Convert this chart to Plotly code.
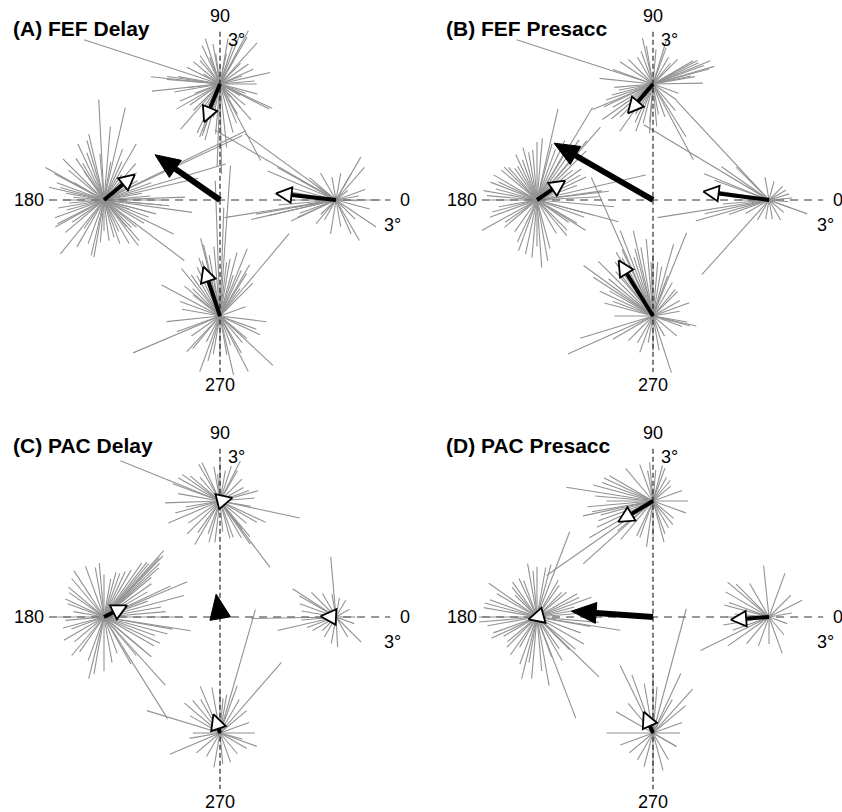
import math
import plotly.graph_objects as go

W, H = 842, 812
PX_PER_DEG = 38.67
ECC = 3.0

titles = ["(A) FEF Delay", "(B) FEF Presacc", "(C) PAC Delay", "(D) PAC Presacc"]
target_dirs = [0, 90, 180, 270]
axis_labels = ["0", "90", "180", "270"]

# ---------- individual trial vectors (angle in deg, length in deg of visual angle) ----------
# Panel A: FEF Delay
a0_ang = [189, 193, 190, 157, 151, 150, 144, 60, 49, 60, 0, -34, -60, -66, 261, 151, 205, 204, 174, 145,
          223, 39, 358, 188, 190, 193, 165, 170, 180, 185, 200, 140, 120, 100, 80, 20, 10, -15, -45, 280, 240, 230]
a0_len = [2.92, 2.25, 2.1, 1.92, 1.73, 3.62, 2.92, 1.28, 1.12, 0.78, 1.16, 1.25, 1.21, 0.96, 0.89, 1.04, 1.28, 1.09, 1.6, 0.58,
          0.54, 0.39, 0.56, 0.74, 1.09, 1.81, 1.2, 1.4, 1.3, 1.5, 1.0, 0.9, 0.8, 0.6, 0.7, 0.8, 0.6, 0.9, 0.7, 0.7, 0.6, 0.8]
a90_ang = [162, 13, -27, 62, 60, 108, 100, 175, 186, 203, 249, 251, 268, 271, 298, 311, 60, 78, 153, 225,
           72, 307, 186, 0, 24, 111, 149, 259, 293, 276, 35, 45, 130, 140, 200, 215, 235, 320, 330, 345, 285, 240, 170, 90, 20,
           68, 48, 174, 172, 229, 251, -49, -25, 98, 115, 125, 80, 190, 210, 245, 255, 265, 300, 340, 5]
a90_len = [3.7, 1.33, 1.43, 1.56, 1.4, 1.23, 1.05, 1.38, 1.77, 1.12, 1.47, 1.3, 2.15, 2.33, 2.24, 0.8, 0.7, 0.8, 0.96, 0.97,
           1.1, 0.43, 0.86, 0.95, 0.94, 0.74, 0.5, 0.88, 1.1, 1.65, 0.9, 0.75, 0.8, 0.9, 0.7, 0.95, 0.8, 0.85, 0.6, 1.0, 1.3, 0.7, 1.1, 0.5, 0.6,
           1.42, 1.43, 1.8, 1.38, 1.55, 1.42, 1.22, 1.49, 0.8, 1.1, 0.9, 1.2, 1.2, 1.3, 1.4, 1.5, 1.3, 0.9, 0.7, 0.9]
a180_ang = [93, 77, 26, 25, 16.5, 13, 0, -15, -26, -37, 231, 151, 167, 180, 209, 277, 60, 49, 103, -49,
            110, 120, 135, 140, 125, 115, 85, 95, 70, 40, 35, 5, 10, 190, 195, 200, 220, 240, 250, 260,
            265, 285, 290, 300, 310, 320, 330, 345, 355, 2, -8, 170, 160, 150, 55, 80,
            106, 124, 152, 164, 207, 257, -53, -21, -5, 65, 45, 30, 20, 175, 185, 215, 235, 270, 295, 315, 340]
a180_len = [2.6, 2.45, 4.08, 3.95, 3.28, 2.5, 1.5, 1.4, 2.0, 2.6, 1.79, 1.73, 1.46, 1.08, 1.44, 1.06, 1.67, 1.25, 1.75, 1.39,
            1.3, 1.1, 1.5, 1.2, 0.9, 1.6, 1.9, 1.2, 1.4, 1.1, 0.9, 1.2, 1.0, 1.2, 1.0, 1.35, 1.3, 1.4, 1.2, 1.5,
            1.1, 1.0, 1.2, 1.3, 0.9, 1.1, 1.2, 1.3, 1.7, 2.1, 2.3, 1.0, 1.3, 0.9, 0.8, 1.0,
            1.6, 1.3, 1.45, 1.17, 1.35, 1.47, 1.48, 1.24, 1.5, 1.1, 0.9, 1.0, 1.3, 0.8, 0.9, 1.0, 0.9, 0.8, 0.9, 1.0, 0.7]
a270_ang = [92, 88, 203, 152, 129, 104, 103, 86, 68, 60, 50, -43, -63, -77, 250, 227, 186, 200, 335, 353,
            54, 72, 99, 142, 242, 280, 110, 115, 120, 95, 80, 75, 65, 135, 160, 215, 260, 290, 310, 20,
            100, 108, 125, 140, 170, 230, 255, 270, 300, 320, 340, 45, 58, 83]
a270_len = [3.5, 2.8, 2.44, 1.71, 1.58, 2.07, 1.89, 3.9, 1.88, 1.53, 2.78, 1.87, 1.61, 1.56, 1.53, 1.26, 1.39, 1.19, 1.14, 1.21,
            0.88, 1.11, 1.07, 0.88, 0.75, 1.02, 1.6, 1.4, 1.2, 1.8, 1.5, 1.7, 1.3, 1.0, 1.1, 0.9, 1.0, 0.8, 0.9, 0.7,
            1.6, 1.5, 1.3, 1.2, 1.0, 1.1, 1.2, 1.0, 1.1, 0.9, 1.0, 1.2, 1.3, 1.4]

# Panel B: FEF Presacc
b0_ang = [189, 196, 192, 158, 149, 133, 228, -20, 17, 100, 75, 45, 160, 170, 175, 180, 185, 200, 210, 240,
          260, 280, 300, 320, 340, 355, 5, 30, 135, 145]
b0_len = [2.92, 1.97, 1.7, 1.81, 3.78, 3.52, 2.6, 1.05, 0.54, 0.6, 0.5, 0.5, 1.5, 1.3, 1.0, 0.8, 1.2, 1.1, 0.7, 0.6,
          0.5, 0.5, 0.6, 0.5, 0.6, 0.5, 0.6, 0.5, 1.2, 1.5]
b90_ang = [162, 16, 73, 103, 146, 174, 199, 203, 230, 266, 256, 298, 302, 326, 1, 20, 30, 45, 60, 85,
           120, 135, 160, 185, 210, 220, 240, 250, 280, 310, 340, 10, 25, 190, 215, 235,
           15, 22, 28, 12, 195, 205, 225, 245, 265, 275, 290, 100, 110, 70, 50]
b90_len = [3.71, 1.65, 1.19, 1.22, 1.03, 1.39, 1.28, 1.69, 0.99, 1.28, 1.05, 2.22, 1.61, 0.73, 1.29, 1.4, 1.2, 0.9, 0.8, 0.9,
           0.8, 0.9, 1.1, 1.0, 1.2, 1.4, 0.9, 1.3, 0.8, 0.9, 0.7, 1.1, 1.3, 0.9, 1.6, 1.5,
           1.5, 1.6, 1.3, 1.0, 1.1, 1.4, 1.2, 1.1, 1.0, 1.1, 0.9, 1.0, 0.9, 1.0, 0.7]
b180_ang = [77, 13, 7, -15, 59, 49, -86, 258, 209, 159, 131, 100, -32, 90, 95, 85, 70, 110, 120, 140,
            150, 165, 170, 180, 190, 200, 220, 235, 250, 270, 285, 300, 315, 330, 345, 355, 3, 20, 30, 40,
            60, 105, 125,
            45, 50, 55, 65, 75, 35, 115, 135, 155, 175, 195, 215, 245, 265, 280, 310, 325, 340, 8, 25]
b180_len = [2.41, 2.88, 1.87, 2.18, 2.79, 2.5, 1.75, 1.43, 1.63, 1.29, 1.12, 1.25, 1.48, 1.5, 1.3, 1.6, 1.4, 1.1, 1.0, 1.2,
            1.3, 1.1, 1.4, 1.2, 1.0, 1.3, 1.1, 1.0, 1.4, 1.2, 1.3, 1.0, 1.1, 1.2, 1.5, 2.0, 1.6, 1.1, 1.3, 1.2,
            1.6, 1.4, 1.0,
            1.8, 2.0, 1.9, 1.7, 1.5, 1.4, 1.3, 1.2, 1.1, 1.3, 1.2, 1.0, 1.2, 1.5, 1.6, 1.2, 1.0, 1.3, 1.7, 1.4]
b270_ang = [204, 144, 147, 111, 103, 114, 68, 74, -13, -15, -72, 197, 155, 120, 125, 130, 95, 90, 85, 80,
            60, 50, 30, 10, 340, 300, 280, 260, 240, 225, 180, 165, 135, 100,
            115, 118, 122, 128, 140, 150, 160, 105, 108, 92, 70, 45, 20, 350, 320, 270, 250, 210]
b270_len = [2.41, 2.22, 1.84, 2.36, 2.26, 3.92, 2.32, 1.93, 1.15, 0.98, 1.54, 1.97, 1.52, 1.9, 1.7, 1.5, 2.0, 1.6, 1.4, 1.3,
            1.0, 0.9, 0.8, 0.7, 0.8, 0.6, 0.9, 0.7, 0.8, 0.9, 1.0, 1.3, 2.0, 1.8,
            1.9, 1.7, 1.6, 1.4, 1.5, 1.3, 1.1, 1.8, 1.6, 1.4, 1.1, 0.9, 1.0, 0.9, 0.8, 0.9, 1.0, 1.2]

# Panel C: PAC Delay
c0_ang = [95, 147, 193, -45, -87, 181, 160, 170, 200, 210, 135, 120, 100, 80, 60, 30, 0, -20, -60, 260,
          240, 225, 185, 150]
c0_len = [1.56, 1.34, 1.55, 0.92, 0.78, 2.2, 1.0, 0.9, 0.8, 0.7, 0.9, 0.7, 0.6, 0.5, 0.5, 0.4, 0.5, 0.5, 0.6, 0.7,
          0.6, 0.5, 0.9, 1.1]
c90_ang = [158, -12, -53, 240, 151, 115, 72, 63, 15, -55, 263, 182, 203, -52, 80, 95, 100, 130, 140, 170,
           190, 215, 225, 250, 275, 285, 300, 320, 335, 350, 5, 30, 45,
           120, 145, 160, 195, 235, 255, 290, 310, 330, 20, 60, 90]
c90_len = [2.78, 2.11, 2.15, 1.3, 1.23, 1.1, 0.95, 1.16, 1.02, 1.36, 1.08, 1.42, 1.45, 0.93, 0.8, 0.7, 0.9, 0.8, 1.0, 1.1,
           0.9, 1.0, 1.2, 0.9, 0.8, 1.0, 1.1, 0.9, 1.3, 0.8, 0.9, 0.7, 0.8,
           1.1, 1.2, 1.3, 1.2, 1.0, 1.1, 1.0, 1.2, 1.1, 0.8, 0.9, 1.0]
c180_ang = [48, 46, 44, 23, 15, -9, -58, -48, 256, 123, 100, 90, 80, 70, 60, 35, 30, 5, 0, -20,
            -30, -40, 270, 250, 235, 220, 200, 185, 170, 155, 140, 110, 52, 40, 20, -15, 290, 310,
            42, 50, 55, 47, 65, 75, 95, 130, 145, 160, 180, 195, 210, 230, 260, 280, 300, 320, 335, 350, 10, 25]
c180_len = [2.31, 2.2, 2.0, 2.34, 2.14, 2.27, 3.1, 2.37, 1.64, 1.43, 1.3, 1.1, 1.0, 1.2, 1.4, 1.5, 1.3, 1.6, 1.9, 1.4,
            1.5, 1.6, 1.4, 1.2, 1.1, 1.0, 0.9, 1.0, 0.8, 1.1, 1.2, 1.4, 1.8, 1.6, 1.2, 1.7, 1.0, 1.3,
            1.9, 1.8, 1.7, 2.1, 1.3, 1.2, 1.4, 1.3, 1.1, 1.0, 1.2, 1.1, 1.2, 1.3, 1.5, 1.2, 1.4, 1.3, 1.6, 1.8, 1.5, 1.9]
c270_ang = [74, 49, 163, 203, -20, 113, 100, 90, 85, 80, 60, 40, 20, 0, 130, 140, 150, 180, 190, 220,
            240, 260, 275, 290, 310, 330, 345, 70, 120]
c270_len = [3.32, 2.42, 1.98, 1.41, 1.01, 1.31, 1.2, 1.1, 0.9, 1.0, 1.0, 0.9, 0.8, 0.9, 1.1, 1.2, 0.9, 0.7, 0.8, 0.8,
            0.7, 0.9, 0.8, 0.8, 0.7, 0.8, 0.6, 1.3, 1.0]

# Panel D: PAC Presacc
d0_ang = [27, 206, 96, 70, 290, 150, 165, 180, 190, 200, 215, 230, 250, 270, 310, 340, 10, 45, 120, 135,
          140, 160, 175]
d0_len = [0.96, 1.97, 1.34, 1.2, 1.0, 1.3, 1.2, 1.1, 1.2, 1.0, 1.3, 0.9, 0.8, 0.7, 0.6, 0.5, 0.6, 0.8, 1.0, 1.2,
          1.4, 1.1, 0.9]
d90_ang = [171, 0, 215, 222, 192, 262, 75, 100, 110, 130, 150, 160, 180, 200, 205, 230, 245, 270, 285, 300,
           320, 340, 20, 40, 60, 85, 185, 210,
           155, 165, 175, 190, 195, 220, 250, 290, 310, 50, 70, 95]
d90_len = [2.27, 0.9, 3.36, 2.43, 1.85, 1.2, 0.95, 0.8, 1.0, 1.1, 1.3, 1.4, 1.2, 1.5, 1.6, 1.3, 1.0, 0.9, 1.1, 0.8,
           0.7, 0.9, 0.8, 0.6, 0.7, 0.8, 1.7, 1.9,
           1.4, 1.6, 1.5, 1.6, 1.4, 1.2, 1.0, 0.9, 0.8, 0.7, 0.9, 1.0]
d180_ang = [69, 75, -9, -44, -69, 256, 145, 160, 170, 180, 190, 200, 210, 225, 240, 260, 275, 290, 305, 320,
            340, 350, 5, 15, 30, 45, 60, 90, 100, 110, 125, 135, 280, 20,
            80, 95, 115, 130, 150, 165, 185, 205, 220, 235, 250, 265, 300, 315, 330, 355, 10, 25, 40, 55]
d180_len = [2.36, 1.4, 2.18, 2.23, 2.8, 1.64, 1.52, 1.3, 1.4, 1.5, 1.3, 1.2, 1.0, 1.1, 0.9, 1.2, 1.4, 1.1, 1.0, 1.3,
            1.2, 1.4, 1.1, 1.0, 1.2, 0.9, 1.1, 1.3, 1.4, 1.0, 1.1, 0.8, 1.8, 1.5,
            1.3, 1.2, 1.1, 1.0, 1.2, 1.4, 1.5, 1.3, 1.0, 1.2, 1.3, 1.6, 1.3, 1.2, 1.4, 1.6, 1.3, 1.2, 1.0, 1.0]
d270_ang = [75, 48, 116, 180, -30, 270, 240, 100, 90, 85, 60, 40, 20, 0, 130, 150, 200, 220, 255, 285,
            300, 330, 110, 65]
d270_len = [3.32, 1.53, 1.94, 1.2, 0.7, 0.95, 0.8, 1.3, 1.5, 1.2, 1.0, 1.1, 0.8, 0.7, 1.0, 1.1, 0.9, 0.8, 0.9, 1.0,
            0.8, 0.7, 1.6, 1.7]

# ---------- mean vectors per target (dx, dy in deg), order: 0, 90, 180, 270 ----------
a_mean_dx = [-1.55, -0.41, 0.80, -0.43]
a_mean_dy = [0.17, -0.99, 0.66, 1.28]
b_mean_dx = [-1.70, -0.65, 0.73, -0.89]
b_mean_dy = [0.22, -0.76, 0.50, 1.44]
c_mean_dx = [-0.40, 0.32, 0.60, -0.17]
c_mean_dy = [0.02, 0.08, 0.30, 0.49]
d_mean_dx = [-0.99, -0.90, -0.22, -0.24]
d_mean_dy = [-0.07, -0.54, -0.06, 0.55]

# population vectors (black arrows from centre)
pop_dx = [-1.68, -2.56, -0.10, -2.11]
pop_dy = [1.17, 1.47, 0.59, 0.15]

stars = [
    [(a0_ang, a0_len), (a90_ang, a90_len), (a180_ang, a180_len), (a270_ang, a270_len)],
    [(b0_ang, b0_len), (b90_ang, b90_len), (b180_ang, b180_len), (b270_ang, b270_len)],
    [(c0_ang, c0_len), (c90_ang, c90_len), (c180_ang, c180_len), (c270_ang, c270_len)],
    [(d0_ang, d0_len), (d90_ang, d90_len), (d180_ang, d180_len), (d270_ang, d270_len)],
]
means = [(a_mean_dx, a_mean_dy), (b_mean_dx, b_mean_dy), (c_mean_dx, c_mean_dy), (d_mean_dx, d_mean_dy)]

# ---------- layout geometry (pixel boxes and panel centres) ----------
boxes = [(0, 420, 0, 406, 220, 200), (421, 842, 0, 406, 653, 200),
         (0, 420, 406, 812, 220, 617), (421, 842, 406, 812, 653, 617)]

FONT = "Liberation Sans, Arial, Helvetica, sans-serif"
GRAY = "#929292"

fig = go.Figure()
layout_axes = {}
annotations = []


def head_poly(tx, ty, dx, dy, L, Wd):
    n = math.hypot(dx, dy)
    ux, uy = dx / n, dy / n
    px, py = -uy, ux
    tipx, tipy = tx + dx, ty + dy
    bx, by = tipx - L * ux, tipy - L * uy
    xs = [tipx, bx + Wd * px, bx - Wd * px, tipx]
    ys = [tipy, by + Wd * py, by - Wd * py, tipy]
    shaft = None
    if n > L:
        shaft = ([tx, bx], [ty, by])
    return xs, ys, shaft


for k in range(4):
    x0, x1, y0, y1, cx, cy = boxes[k]
    sfx = "" if k == 0 else str(k + 1)
    xa, ya = "x" + sfx, "y" + sfx
    layout_axes["xaxis" + sfx] = dict(
        domain=[x0 / W, x1 / W], range=[-(cx - x0) / PX_PER_DEG, (x1 - cx) / PX_PER_DEG],
        visible=False, showgrid=False, zeroline=False, fixedrange=True, anchor=ya)
    layout_axes["yaxis" + sfx] = dict(
        domain=[1 - y1 / H, 1 - y0 / H], range=[-(y1 - cy) / PX_PER_DEG, (cy - y0) / PX_PER_DEG],
        visible=False, showgrid=False, zeroline=False, fixedrange=True, anchor=xa)

    # gray single-trial lines
    gx, gy = [], []
    for t, (angs, lens) in zip(target_dirs, stars[k]):
        assert len(angs) == len(lens)
        tx, ty = ECC * math.cos(math.radians(t)), ECC * math.sin(math.radians(t))
        for a, l in zip(angs, lens):
            gx += [tx, tx + l * math.cos(math.radians(a)), None]
            gy += [ty, ty + l * math.sin(math.radians(a)), None]
    fig.add_trace(go.Scatter(x=gx, y=gy, mode="lines", line=dict(color=GRAY, width=1.1),
                             xaxis=xa, yaxis=ya, hoverinfo="skip", showlegend=False))

    # dashed axes
    fig.add_trace(go.Scatter(x=[-4.42, 4.4], y=[0, 0], mode="lines",
                             line=dict(color="#777777", width=1.5, dash="8px,6px"),
                             xaxis=xa, yaxis=ya, hoverinfo="skip", showlegend=False))
    fig.add_trace(go.Scatter(x=[0, 0], y=[4.35, -4.45], mode="lines",
                             line=dict(color="#000000", width=1, dash="5px,3px"),
                             xaxis=xa, yaxis=ya, hoverinfo="skip", showlegend=False))

    # mean vectors (white heads)
    mdx, mdy = means[k]
    for i, t in enumerate(target_dirs):
        tx, ty = ECC * math.cos(math.radians(t)), ECC * math.sin(math.radians(t))
        hx, hy, shaft = head_poly(tx, ty, mdx[i], mdy[i], 0.4, 0.2)
        if shaft:
            fig.add_trace(go.Scatter(x=shaft[0], y=shaft[1], mode="lines",
                                     line=dict(color="black", width=4),
                                     xaxis=xa, yaxis=ya, hoverinfo="skip", showlegend=False))
        fig.add_trace(go.Scatter(x=hx, y=hy, mode="lines", fill="toself", fillcolor="white",
                                 line=dict(color="black", width=1.8),
                                 xaxis=xa, yaxis=ya, hoverinfo="skip", showlegend=False))

    # population vector (black)
    hx, hy, shaft = head_poly(0, 0, pop_dx[k], pop_dy[k], 0.64, 0.27)
    if shaft:
        fig.add_trace(go.Scatter(x=shaft[0], y=shaft[1], mode="lines",
                                 line=dict(color="black", width=6),
                                 xaxis=xa, yaxis=ya, hoverinfo="skip", showlegend=False))
    fig.add_trace(go.Scatter(x=hx, y=hy, mode="lines", fill="toself", fillcolor="black",
                             line=dict(color="black", width=1),
                             xaxis=xa, yaxis=ya, hoverinfo="skip", showlegend=False))

    # texts
    f = dict(family=FONT, size=18, color="black")
    annotations += [
        dict(text=axis_labels[1], x=0, y=4.76, xref=xa, yref=ya, showarrow=False, font=f,
             xanchor="center", yanchor="middle"),
        dict(text=axis_labels[3], x=0, y=-4.78, xref=xa, yref=ya, showarrow=False, font=f,
             xanchor="center", yanchor="middle"),
        dict(text=axis_labels[2], x=-4.5, y=0, xref=xa, yref=ya, showarrow=False, font=f,
             xanchor="right", yanchor="middle"),
        dict(text=axis_labels[0], x=4.6, y=0, xref=xa, yref=ya, showarrow=False, font=f,
             xanchor="left", yanchor="middle"),
        dict(text="3°", x=0.16, y=4.14, xref=xa, yref=ya, showarrow=False, font=f,
             xanchor="left", yanchor="middle"),
        dict(text="3°", x=4.2, y=-0.65, xref=xa, yref=ya, showarrow=False, font=f,
             xanchor="left", yanchor="middle"),
        dict(text="<b>" + titles[k] + "</b>", x=-5.4, y=4.43, xref=xa, yref=ya, showarrow=False,
             font=dict(family=FONT, size=21, color="black"), xanchor="left", yanchor="middle"),
    ]

fig.update_layout(width=W, height=H, autosize=False,
                  margin=dict(l=0, r=0, t=0, b=0, pad=0),
                  paper_bgcolor="white", plot_bgcolor="white",
                  showlegend=False, annotations=annotations, **layout_axes)

fig.write_html("out.html", config={"displayModeBar": False, "staticPlot": True},
               post_script="document.body.style.margin='0';document.body.style.overflow='hidden';")
